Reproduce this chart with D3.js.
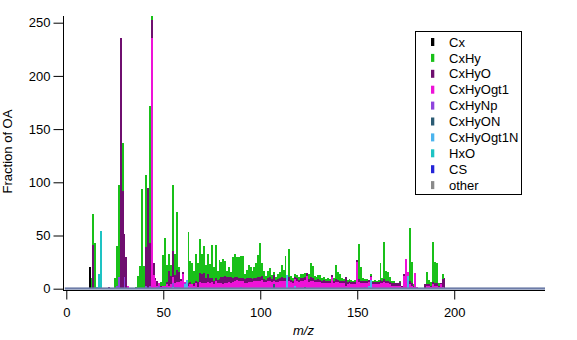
<!DOCTYPE html>
<html>
<head>
<meta charset="utf-8">
<script src="https://cdn.jsdelivr.net/npm/d3@7"></script>
<style>
  html, body { margin: 0; padding: 0; background: #fff; }
  svg { display: block; font-family: Arial, "Liberation Sans", sans-serif; }
</style>
</head>
<body>
<svg id="chart" width="577" height="340"></svg>
<script>
// One value per integer m/z, from mzStart to mzEnd
const mzStart = 12, mzEnd = 196;

const CxHy = [
  0,10,29,43,0,0,0,0,0,0,
  0,0,0,10,37,86,0,45,0,0,
  0,0,0,0,2,12,21,94,20,68,
  0,129,3,0,0,0,0,3,29,45,
  16,16,10,62,20,54,4,0,0,0,
  0,48,20,20,12,26,18,32,19,25,
  12,19,13,31,13,31,9,18,14,17,
  14,6,9,5,20,22,19,20,21,21,
  5,8,12,10,8,10,14,21,32,12,
  8,4,7,8,4,3,3,5,6,11,
  8,21,0,26,4,3,3,3,3,4,
  4,4,0,5,13,11,4,3,4,5,
  3,3,2,3,2,0,3,13,8,7,
  3,2,0,2,2,2,1,2,0,33,
  13,3,2,2,0,2,1,2,1,2,
  16,3,35,10,9,5,2,2,0,0,
  1,0,0,0,0,50,20,1,0,0,
  0,0,0,0,12,4,3,38,20,19,
  2,0,5,0,0
];
const CxHyO = [
  0,0,41,0,0,0,0,0,0,0,
  2,0,0,0,0,0,236,92,40,30,
  0,0,0,0,0,0,0,0,0,36,
  95,40,17,11,2,4,0,1,0,0,
  2,14,8,24,8,12,10,2,2,0,
  0,2,2,0,2,2,4,9,9,10,
  5,8,5,4,3,3,3,4,6,7,
  7,6,5,6,4,4,3,3,3,3,
  4,5,4,4,3,3,3,4,4,4,
  3,2,3,4,3,6,2,3,3,4,
  3,3,0,4,2,2,2,3,2,3,
  3,3,3,3,4,3,2,2,3,2,
  2,3,2,2,2,2,2,3,2,2,
  2,2,8,2,2,2,2,2,2,3,
  2,2,2,2,2,1,2,2,2,2,
  3,2,3,2,2,2,2,2,2,2,
  3,1,2,0,0,3,2,1,0,0,
  0,0,0,4,1,1,1,2,2,2,
  1,1,7,10,0
];
const CxHyOgt1 = [
  0,0,0,0,0,0,0,0,0,0,
  0,0,0,0,0,0,0,0,0,0,
  2,0,0,0,0,0,0,0,0,0,
  0,0,236,13,8,1,2,1,1,1,
  2,3,4,6,3,4,4,6,14,1,
  0,3,3,4,3,4,2,5,4,4,
  4,5,4,5,3,6,4,4,4,3,
  4,4,5,4,5,6,7,6,5,6,
  4,4,5,5,5,6,6,6,6,7,
  5,5,6,6,5,3,5,5,6,6,
  6,6,0,6,5,4,6,6,5,6,
  6,6,12,5,6,6,5,5,5,5,
  4,4,4,4,4,11,4,5,5,4,
  4,4,3,3,4,3,3,3,25,5,
  4,4,3,4,3,3,3,3,3,3,
  4,4,5,4,4,3,3,3,3,3,
  3,2,12,28,4,4,3,2,15,2,
  0,0,0,0,3,3,2,4,3,3,
  2,4,2,0,0
];
const CxHyNp = [
  0,0,0,0,0,0,0,0,0,0,
  0,0,0,0,3,11,0,0,11,0,
  0,0,0,0,0,0,0,0,0,3,
  0,3,0,0,0,2,3,1,2,2,
  2,0,0,3,2,2,2,1,0,1,
  0,0,0,0,0,1,0,1,1,1,
  1,1,1,1,1,1,1,1,1,1,
  1,1,1,1,1,1,1,1,2,1,
  1,1,1,1,1,1,1,1,1,1,
  1,1,1,1,1,0,1,1,1,1,
  1,1,0,1,1,1,0,1,1,1,
  1,0,0,1,1,1,1,1,1,1,
  1,1,1,1,1,0,1,1,1,1,
  1,1,0,1,1,1,1,1,0,1,
  1,1,1,1,0,0,1,1,1,1,
  1,1,1,1,1,1,0,0,0,0,
  0,0,0,0,0,0,0,0,0,0,
  0,0,0,0,0,0,0,0,0,0,
  0,0,0,0,0
];
// Sparse families: [m/z, value]
const Cx = [[12, 20]];
const CxHyON = [[107, 4], [123, 2]];
const CxHyOgt1N = [[55, 2], [61, 4], [62, 8], [114, 13], [118, 2], [156, 3], [157, 8], [176, 12]];
const HxO = [[16, 2], [17, 14], [18, 54], [19, 1]];
const CS = [[64, 1], [118, 1], [154, 1]];
const other = [[32, 1], [40, 1]];

const families = ["Cx", "CxHy", "CxHyO", "CxHyOgt1", "CxHyNp", "CxHyON", "CxHyOgt1N", "HxO", "CS", "other"];
const familyColors = ["#000000", "#19c019", "#6f0f6f", "#ee12d8", "#8f44dd", "#2b5b73", "#4bb4ee", "#1ec3c3", "#2424d8", "#8a8a8a"];
const xTicks = [0, 50, 100, 150, 200];
const yTicks = [0, 50, 100, 150, 200, 250];

// ---- assemble rows for the stack ----
const mzValues = d3.range(mzStart, mzEnd + 1);
function dense(pairs) {
  const arr = mzValues.map(() => 0);
  pairs.forEach(([mz, v]) => { arr[mz - mzStart] = v; });
  return arr;
}
const seriesData = {
  Cx: dense(Cx), CxHy, CxHyO, CxHyOgt1, CxHyNp,
  CxHyON: dense(CxHyON), CxHyOgt1N: dense(CxHyOgt1N),
  HxO: dense(HxO), CS: dense(CS), other: dense(other)
};
const rows = mzValues.map((mz, i) => {
  const r = { mz };
  families.forEach(f => { r[f] = seriesData[f][i]; });
  return r;
});
const color = d3.scaleOrdinal(families, familyColors);

// bottom of each bar is the last family in the legend
const stackOrder = families.slice().reverse();
const layers = d3.stack().keys(stackOrder)(rows);

// ---- scales ----
const x = d3.scaleLinear().domain([-1.7, 246.8]).range([63, 545]);
const y = d3.scaleLinear().domain([0, 256.3]).range([288.7, 16]);

const svg = d3.select("#chart");

// ---- bars ----
const barG = svg.append("g").attr("shape-rendering", "crispEdges");
layers.forEach(layer => {
  barG.append("g")
    .attr("fill", color(layer.key))
    .selectAll("rect")
    .data(layer.filter(d => d[1] - d[0] > 0))
    .join("rect")
    .attr("x", d => x(d.data.mz - 0.5))
    .attr("width", d => x(d.data.mz + 0.5) - x(d.data.mz - 0.5))
    .attr("y", d => y(d[1]))
    .attr("height", d => y(d[0]) - y(d[1]));
});

// zero line along the whole m/z range
svg.append("rect")
  .attr("x", x(-0.8)).attr("width", x(246.8) - x(-0.8))
  .attr("y", y(0) - 1.3).attr("height", 2.2)
  .attr("fill", "#6d7ca8");

// ---- axes ----
const xAxis = svg.append("g")
  .attr("transform", "translate(0,290.5)")
  .call(d3.axisBottom(x).tickValues(xTicks).tickSize(9).tickPadding(8).tickSizeOuter(0));
const yAxis = svg.append("g")
  .attr("transform", "translate(63.5,0)")
  .call(d3.axisLeft(y).tickValues(yTicks).tickSize(10).tickPadding(3).tickSizeOuter(0));
[xAxis, yAxis].forEach(g => {
  g.select(".domain").remove();
  g.attr("font-family", "Arial, 'Liberation Sans', sans-serif").attr("font-size", 13);
  g.selectAll("text").attr("fill", "#000");
  g.selectAll("line").attr("stroke", "#000");
});
svg.append("line").attr("x1", 63.5).attr("x2", 63.5).attr("y1", 16).attr("y2", 291)
  .attr("stroke", "#000");
svg.append("line").attr("x1", 63).attr("x2", 545).attr("y1", 290.5).attr("y2", 290.5)
  .attr("stroke", "#000");

// axis titles
svg.append("text")
  .attr("transform", "translate(12,151.5) rotate(-90)")
  .attr("text-anchor", "middle").attr("font-size", 13)
  .text("Fraction of OA");
svg.append("text")
  .attr("x", 303.5).attr("y", 335)
  .attr("text-anchor", "middle").attr("font-size", 13).attr("font-style", "italic")
  .text("m/z");

// ---- legend ----
const legend = svg.append("g");
legend.append("rect")
  .attr("x", 415.5).attr("y", 31.5).attr("width", 106).attr("height", 163)
  .attr("fill", "#fff").attr("stroke", "#000");
const item = legend.selectAll("g.item").data(families).join("g")
  .attr("class", "item")
  .attr("transform", (d, i) => `translate(0,${42 + i * 15.9})`);
item.append("rect")
  .attr("x", 431).attr("y", -4).attr("width", 3.3).attr("height", 8)
  .attr("fill", d => color(d));
item.append("text")
  .attr("x", 449).attr("y", 4.6).attr("font-size", 13)
  .text(d => d);
</script>
</body>
</html>
